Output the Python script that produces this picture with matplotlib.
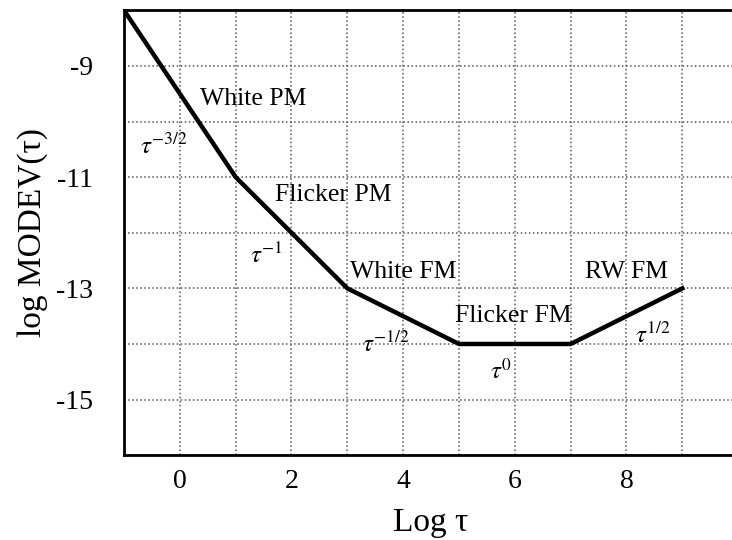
import matplotlib
matplotlib.use('Agg')
import matplotlib.pyplot as plt

plt.rcParams['font.family'] = ['Liberation Serif', 'DejaVu Serif']
plt.rcParams['mathtext.fontset'] = 'stix'

# corner points of the sigma-tau slopes
log_tau = [-1, 1, 3, 5, 7, 9]
log_modev = [-8, -11, -13, -14, -14, -13]

noise_names = ['White PM', 'Flicker PM', 'White FM', 'Flicker FM', 'RW FM']
name_x = [0.36, 1.7, 3.05, 4.93, 7.26]
name_y = [-9.6, -11.33, -12.7, -13.5, -12.7]

slopes = [r'$\tau^{-3/2}$', r'$\tau^{-1}$', r'$\tau^{-1/2}$', r'$\tau^{0}$', r'$\tau^{1/2}$']
slope_x = [-0.72, 1.25, 3.27, 5.55, 8.15]
slope_y = [-10.45, -12.4, -14.0, -14.5, -13.85]

xticks = [0, 2, 4, 6, 8]
yticks = [-9, -11, -13, -15]

fig = plt.figure(figsize=(7.32, 5.4), dpi=100)
ax = fig.add_axes([0.1694, 0.157, 0.839, 0.824])

ax.plot(log_tau, log_modev, color='black', lw=3.2, solid_joinstyle='round')

for name, x, y in zip(noise_names, name_x, name_y):
    ax.text(x, y, name, fontsize=18.5, va='center', ha='left')
for s, x, y in zip(slopes, slope_x, slope_y):
    ax.text(x, y, s, fontsize=18, va='center', ha='left')

ax.set_xlim(-1, 10)
ax.set_ylim(-16, -8)
ax.set_xticks(range(0, 10), minor=True)
ax.set_yticks(range(-16, -7), minor=True)
ax.set_xticks(xticks)
ax.set_xticklabels([str(t) for t in xticks])
ax.set_yticks(yticks)
ax.set_yticklabels([str(t) for t in yticks])
ax.grid(True, which='both', color='#555555', ls=':', lw=1.1)
ax.tick_params(which='both', length=0, labelsize=20)
ax.tick_params(axis='y', pad=22)
ax.tick_params(axis='x', pad=10)
for sp in ax.spines.values():
    sp.set_linewidth(2)
ax.spines['right'].set_visible(False)

ax.set_xlabel('Log τ', fontsize=24, labelpad=10)
ax.set_ylabel('log MODEV(τ)', fontsize=24, labelpad=6)

fig.savefig('out.png', dpi=100)
